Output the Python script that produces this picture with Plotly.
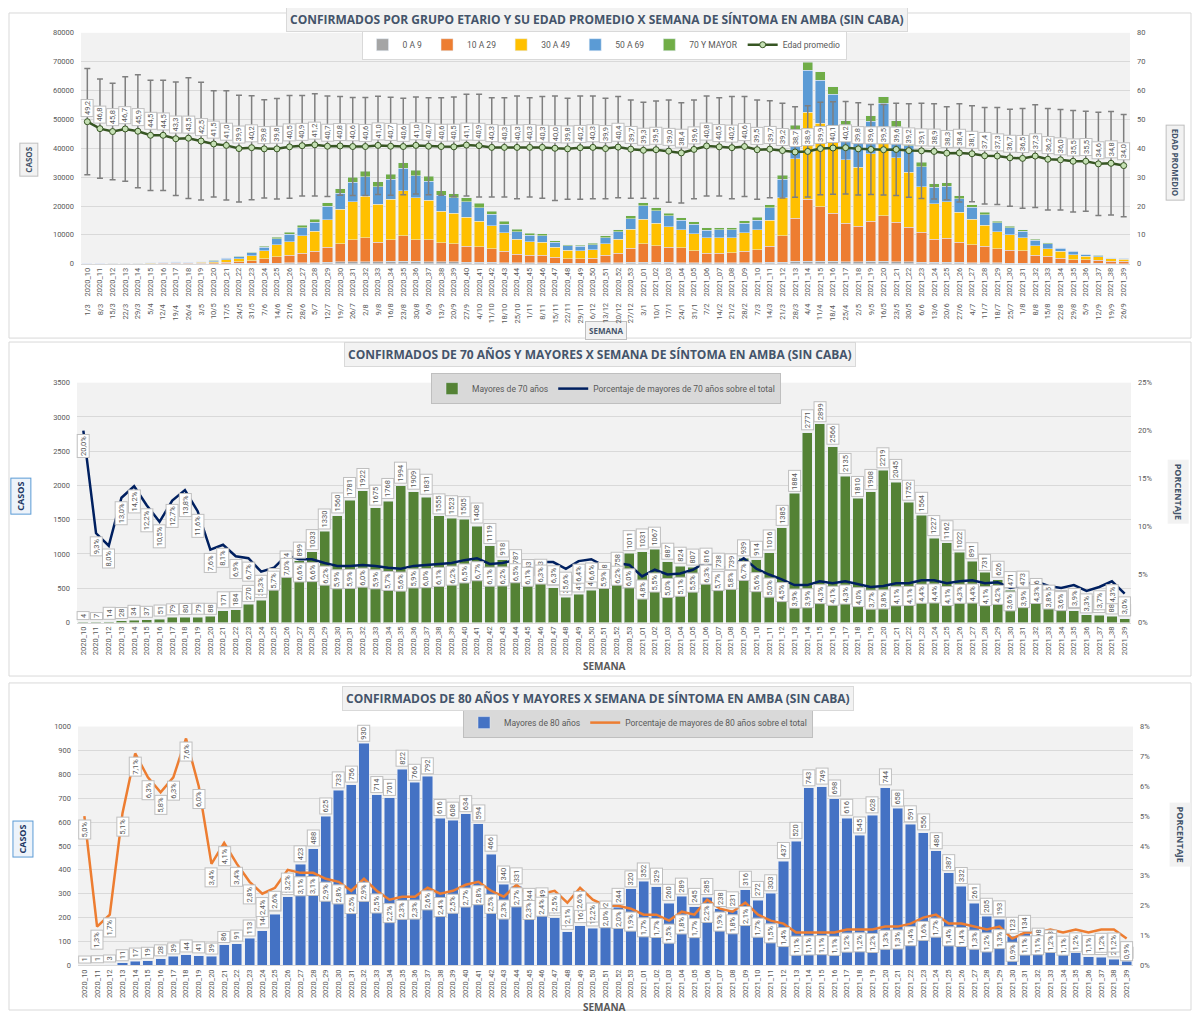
import plotly.graph_objects as go
import pandas as pd

# semanas epidemiologicas y fecha de inicio de cada una
semanas = [f"2020_{i:02d}" for i in range(10, 54)] + [f"2021_{i:02d}" for i in range(1, 40)]
fechas = [f"{d.day}/{d.month}" for d in pd.date_range("2020-03-01", periods=len(semanas), freq="7D")]

# --- grafico 1: casos por grupo etario ---
g_0_9 = [0, 2, 4, 5, 6, 8, 14, 18, 18, 22, 40, 70, 90, 130, 180, 250, 300, 350, 400, 570,
         700, 750, 750, 750, 800, 850, 800, 750, 650, 620, 600, 550, 500, 400, 350, 300, 300, 250,
         200, 200, 200, 300, 350, 450,
         500, 500, 450, 400, 400, 350, 350, 350, 400, 400, 500, 600, 900, 800, 800, 800, 700, 700,
         800, 800, 700, 700, 600, 500, 500, 450, 400, 350, 300, 250, 250, 200, 200, 150, 120, 100,
         100, 80, 80]
g_10_29 = [3, 12, 30, 35, 38, 55, 90, 115, 105, 130, 230, 420, 560, 880, 1580, 2160, 2570, 3200,
           4000, 5160, 6310, 7570, 8230, 6650, 7570, 8890, 7570, 7620, 6570, 6260, 5470, 5410, 4660,
           3840, 2970, 2570, 2570, 2040, 1600, 1500, 1750, 2570, 3320, 4940,
           6380, 5800, 5280, 5100, 4180, 3320, 3320, 3400, 3840, 4530, 5570, 9140, 14800, 21550,
           18910, 16740, 13280, 12250, 13870, 15820, 13630, 11910, 10290, 7980, 8330, 7000, 6250,
           5720, 4860, 4450, 4220, 2670, 2440, 1800, 1300, 1200, 1100, 800, 800]
g_30_49 = [7, 30, 72, 82, 92, 120, 200, 250, 230, 280, 500, 900, 1150, 1750, 2730, 4240, 4810,
           6100, 6800, 9510, 11800, 13180, 14320, 13180, 13980, 15470, 14550, 13640, 10890, 10660,
           9980, 8710, 8020, 6420, 5160, 4690, 4580, 3440, 2950, 2850, 2980, 4010, 4810, 6640,
           8590, 7800, 7110, 6190, 5740, 5270, 5270, 5300, 6420, 6760, 9060, 13180, 20630, 30140,
           29000, 26590, 22120, 20520, 23500, 25210, 22350, 19140, 15810, 12380, 12600, 10320,
           8710, 7340, 5960, 5390, 4580, 3430, 2520, 2290, 1700, 1350, 1150, 800, 750]
g_50_69 = [6, 24, 55, 65, 70, 83, 131, 160, 147, 170, 300, 550, 683, 1000, 1260, 2000, 2450,
           2850, 3200, 4590, 5650, 6750, 6850, 6100, 6880, 7800, 7600, 6500, 5550, 5250, 5380,
           4810, 3900, 3090, 2650, 2330, 2220, 1780, 1530, 1460, 1720, 2150, 2560, 3580,
           4590, 4200, 3810, 3420, 3430, 2730, 2810, 2700, 3300, 3440, 4250, 6420, 9800, 14560,
           14900, 14670, 11280, 9700, 11270, 13830, 10780, 9200, 6930, 5650, 5490, 4710, 4270,
           3630, 3040, 2390, 2280, 1800, 1790, 1060, 1180, 560, 420, 290, 260]
mayores_70 = [4, 7, 14, 28, 34, 37, 51, 79, 80, 79, 88, 171, 184, 270, 322, 522, 774, 899, 1033,
              1330, 1560, 1781, 1922, 1675, 1768, 1994, 1909, 1831, 1555, 1523, 1505, 1408, 1119,
              918, 787, 653, 653, 505, 372, 411, 469, 598, 758, 1011,
              1031, 1067, 887, 824, 807, 816, 738, 739, 939, 914, 1016, 1385, 1884, 2771, 2899,
              2566, 2135, 1810, 1908, 2219, 2045, 1752, 1564, 1227, 1162, 1022, 891, 731, 626, 471,
              473, 376, 275, 193, 174, 110, 106, 88, 58]
edad_promedio = [49.2, 46.8, 45.8, 46.7, 45.9, 44.5, 44.5, 43.3, 43.5, 42.5, 41.5, 41.0, 39.9,
                 40.2, 39.8, 39.8, 40.5, 40.9, 41.2, 40.7, 40.8, 40.6, 40.6, 41.0, 40.7, 40.6,
                 41.0, 40.7, 40.6, 40.5, 41.1, 40.9, 40.3, 40.3, 40.3, 40.3, 40.3, 40.0, 39.8,
                 40.2, 40.3, 39.9, 40.4, 39.7,
                 39.3, 39.5, 39.0, 38.4, 39.6, 40.8, 40.5, 40.2, 40.6, 39.5, 39.7, 39.2, 38.7,
                 38.9, 39.9, 40.1, 40.2, 39.8, 39.6, 39.5, 39.6, 39.2, 39.1, 38.9, 38.3, 38.4,
                 38.1, 37.4, 37.3, 36.7, 36.5, 37.3, 36.2, 36.0, 35.5, 35.5, 34.6, 34.8, 34.0]
desvio_edad = [18.4, 17.2, 16.7, 18.1, 19.6, 19.1, 19.1, 19.7, 20.9, 20.4, 18.4, 18.9, 18.5,
               18.0, 17.0, 17.4, 17.8, 17.4, 17.7, 17.4, 17.1, 17.0, 17.0, 17.0, 17.0, 16.7,
               16.8, 16.8, 16.9, 17.3, 17.6, 17.8, 17.2, 17.2, 17.8, 17.2, 17.6, 18.1, 17.5,
               17.9, 17.8, 17.4, 17.5, 17.0,
               16.6, 16.9, 17.7, 17.4, 17.1, 17.3, 17.0, 17.7, 17.3, 17.2, 16.8, 16.4, 15.7,
               15.8, 16.0, 16.0, 16.0, 16.0, 15.6, 15.7, 16.0, 16.2, 16.5, 16.5, 16.1, 17.0,
               16.6, 16.7, 16.8, 16.8, 17.3, 17.8, 17.6, 17.4, 17.6, 17.3, 17.9, 17.9, 17.7]

# --- grafico 2: 70 y mas ---
pct_70 = [20.0, 9.3, 8.0, 13.0, 14.2, 12.2, 10.5, 12.7, 13.8, 11.6, 7.6, 8.1, 6.9, 6.7, 5.3,
          5.7, 7.0, 6.6, 6.6, 6.2, 5.9, 5.9, 6.0, 5.9, 5.7, 5.6, 5.9, 6.0, 6.1, 6.2, 6.5, 6.7,
          6.1, 6.2, 6.5, 6.1, 6.3, 6.3, 5.6, 6.4, 6.6, 5.9, 6.2, 6.0,
          4.8, 5.5, 5.0, 5.1, 5.5, 6.3, 5.7, 5.8, 6.7, 5.6, 5.0, 4.5, 3.9, 3.9, 4.3, 4.1, 4.3,
          4.0, 3.7, 3.8, 4.1, 4.1, 4.4, 4.4, 4.1, 4.3, 4.4, 4.1, 4.2, 3.6, 3.9, 4.3, 3.8, 3.6,
          3.9, 3.3, 3.7, 4.3, 3.0]

# --- grafico 3: 80 y mas ---
mayores_80 = [1, 1, 3, 11, 17, 19, 28, 39, 44, 41, 39, 86, 91, 113, 146, 215, 287, 423, 488,
              625, 733, 756, 930, 714, 701, 822, 766, 792, 616, 608, 634, 594, 466, 340, 331,
              244, 249, 200, 140, 167, 156, 192, 244, 320,
              352, 329, 260, 289, 245, 285, 238, 231, 316, 272, 303, 437, 520, 743, 749, 698,
              616, 545, 628, 744, 658, 591, 556, 480, 387, 332, 261, 205, 193, 123, 134, 98, 93,
              60, 54, 37, 34, 25, 18]
pct_80 = [5.0, 1.3, 1.7, 5.1, 7.1, 6.3, 5.8, 6.3, 7.6, 6.0, 3.4, 4.1, 3.4, 2.8, 2.4, 2.6, 3.2,
          3.1, 3.1, 2.9, 2.8, 2.5, 2.9, 2.5, 2.2, 2.3, 2.3, 2.6, 2.4, 2.5, 2.7, 2.8, 2.5, 2.3,
          2.7, 2.3, 2.4, 2.5, 2.1, 2.6, 2.2, 2.0, 2.0, 1.9,
          1.7, 1.7, 1.5, 1.8, 1.7, 2.2, 1.9, 1.8, 2.1, 1.7, 1.5, 1.4, 1.1, 1.1, 1.1, 1.1, 1.2,
          1.2, 1.2, 1.3, 1.3, 1.4, 1.6, 1.7, 1.4, 1.4, 1.3, 1.2, 1.3, 0.9, 1.1, 1.1, 1.2, 1.1,
          1.2, 1.1, 1.2, 1.2, 0.9]

FONT = "Roboto"
GRIS = "#595959"
TITULO = "#44546A"
# la pagina deja 8px de margen alrededor del grafico
OFF = 8
W = 1184.0
H = 1008.0


def px_x(px):
    return (px - OFF) / W


def py(px):
    return 1 - (px - OFF) / H


def coma(v):
    return f"{v:.1f}".replace(".", ",")


fig = go.Figure()

grupos = [("0 A 9", g_0_9, "#A5A5A5"), ("10 A 29", g_10_29, "#ED7D31"),
          ("30 A 49", g_30_49, "#FFC000"), ("50 A 69", g_50_69, "#5B9BD5"),
          ("70 Y MAYOR", mayores_70, "#70AD47")]
for nombre, vals, color in grupos:
    fig.add_trace(go.Bar(x=semanas, y=vals, name=nombre, marker_color=color,
                         xaxis="x", yaxis="y", legend="legend"))

fig.add_trace(go.Scatter(x=semanas, y=edad_promedio, name="Edad promedio", mode="lines+markers",
                         line=dict(color="#375623", width=2.5),
                         marker=dict(size=6, color="#C5E0B4", line=dict(color="#375623", width=1)),
                         error_y=dict(type="data", array=desvio_edad, visible=True,
                                      color="#7F7F7F", thickness=1.5, width=3),
                         xaxis="x", yaxis="y2", legend="legend"))

fig.add_trace(go.Bar(x=semanas, y=mayores_70, name="Mayores de 70 años", marker_color="#548235",
                     xaxis="x2", yaxis="y3", legend="legend2"))
fig.add_trace(go.Scatter(x=semanas, y=[p / 100 for p in pct_70], mode="lines",
                         name="Porcentaje de mayores de 70 años sobre el total",
                         line=dict(color="#002060", width=2.5),
                         xaxis="x2", yaxis="y4", legend="legend2"))

fig.add_trace(go.Bar(x=semanas, y=mayores_80, name="Mayores de 80 años", marker_color="#4472C4",
                     xaxis="x3", yaxis="y5", legend="legend3"))
fig.add_trace(go.Scatter(x=semanas, y=[p / 100 for p in pct_80], mode="lines",
                         name="Porcentaje de mayores de 80 años sobre el total",
                         line=dict(color="#ED7D31", width=2.5),
                         xaxis="x3", yaxis="y6", legend="legend3"))

tick = dict(size=7.5, color=GRIS, family=FONT)
eje_x = dict(type="category", tickangle=-90, tickfont=tick, showgrid=False, ticks="",
             showline=True, linecolor="#D9D9D9", range=[-0.5, len(semanas) - 0.5])
eje_y = dict(tickfont=tick, gridcolor="#D9D9D9", zeroline=False, showline=False, ticks="",
             ticklabelstandoff=6)
eje_y2 = dict(tickfont=tick, showgrid=False, zeroline=False, showline=False, ticks="",
              side="right", ticklabelstandoff=6)

legend_base = dict(orientation="h", xanchor="center", yanchor="middle", borderwidth=1,
                   font=dict(size=8.5, color=GRIS, family=FONT), traceorder="normal")

fig.update_layout(
    width=W, height=H,
    margin=dict(l=0, r=0, t=0, b=0),
    paper_bgcolor="white", plot_bgcolor="#F2F2F2",
    barmode="stack", bargap=0.2,
    font=dict(family=FONT),
    xaxis=dict(eje_x, domain=[px_x(81), px_x(1130)], anchor="y"),
    yaxis=dict(eje_y, domain=[py(262), py(29)], range=[0, 80000], dtick=10000, tickformat="d"),
    yaxis2=dict(eje_y2, overlaying="y", anchor="x", range=[0, 80], dtick=10),
    xaxis2=dict(eje_x, domain=[px_x(77), px_x(1131)], anchor="y3"),
    yaxis3=dict(eje_y, domain=[py(624), py(382)], range=[0, 3500], dtick=500, anchor="x2"),
    yaxis4=dict(eje_y2, overlaying="y3", anchor="x2", range=[0, 0.25], dtick=0.05,
                tickformat=".0%"),
    xaxis3=dict(eje_x, domain=[px_x(78), px_x(1133)], anchor="y5"),
    yaxis5=dict(eje_y, domain=[py(970), py(729)], range=[0, 1000], dtick=100, anchor="x3"),
    yaxis6=dict(eje_y2, overlaying="y5", anchor="x3", range=[0, 0.08], dtick=0.01,
                tickformat=".0%"),
    legend=dict(legend_base, x=px_x(604), y=py(41), bgcolor="white", bordercolor="#D9D9D9"),
    legend2=dict(legend_base, x=px_x(606), y=py(388), bgcolor="#D9D9D9", bordercolor="#BFBFBF"),
    legend3=dict(legend_base, x=px_x(638), y=py(725), bgcolor="#D9D9D9", bordercolor="#BFBFBF"),
    showlegend=True,
)

# marcos de cada grafico
for y0, y1 in [(9, 337), (341, 678), (685, 1015)]:
    fig.add_shape(type="rect", xref="paper", yref="paper", x0=px_x(9), x1=px_x(1191),
                  y0=py(y1), y1=py(y0), line=dict(color="#D9D9D9", width=1), layer="below")

anots = []


def caja(texto, x, y, size=12, angle=0, bg="#F2F2F2", borde="#D9D9D9", color=TITULO):
    anots.append(dict(text=f"<b>{texto}</b>", x=px_x(x), y=py(y), xref="paper", yref="paper",
                      xanchor="center", yanchor="middle",
                      showarrow=False, textangle=angle, bgcolor=bg, bordercolor=borde,
                      borderwidth=1, borderpad=3,
                      font=dict(size=size, color=color, family="Open Sans")))


caja("CONFIRMADOS POR GRUPO ETARIO Y SU EDAD PROMEDIO X SEMANA DE SÍNTOMA EN AMBA (SIN CABA)",
     597, 16, size=12)
caja("CONFIRMADOS DE 70 AÑOS Y MAYORES X SEMANA DE SÍNTOMA EN AMBA (SIN CABA)", 600, 354, size=12)
caja("CONFIRMADOS DE 80 AÑOS Y MAYORES X SEMANA DE SÍNTOMA EN AMBA (SIN CABA)", 598, 701, size=12)

caja("CASOS", 29, 157, size=8, angle=-90, borde="#BFBFBF")
caja("EDAD PROMEDIO", 1175, 160, size=8, angle=90, borde="#BFBFBF")
caja("SEMANA", 606, 329, size=8, borde="#BFBFBF")
caja("CASOS", 21, 497, size=9, angle=-90, bg="#EDF3FA", borde="#5B9BD5", color="#1F3864")
caja("PORCENTAJE", 1178, 492, size=9, angle=90, borde="#F2F2F2")
caja("CASOS", 23, 843, size=9, angle=-90, bg="#EDF3FA", borde="#5B9BD5", color="#1F3864")
caja("PORCENTAJE", 1180, 838, size=9, angle=90, borde="#F2F2F2")
for yy in (668, 1012):
    anots.append(dict(text="<b>SEMANA</b>", x=px_x(604), y=py(yy), xref="paper", yref="paper",
                      xanchor="center", yanchor="middle", showarrow=False,
                      font=dict(size=10, color=GRIS, family="Open Sans")))

etiqueta = dict(showarrow=False, textangle=-90, bgcolor="white", bordercolor="#BFBFBF",
                borderwidth=1, borderpad=1, xanchor="center",
                font=dict(size=7.5, color=GRIS, family=FONT))

for i, s in enumerate(semanas):
    # fechas debajo de las semanas (grafico 1)
    anots.append(dict(text=fechas[i], x=s, y=py(300), xref="x", yref="paper", showarrow=False,
                      textangle=-90, xanchor="center", yanchor="top",
                      font=dict(size=7.5, color=GRIS, family=FONT)))
    anots.append(dict(etiqueta, text=coma(edad_promedio[i]), x=s, y=edad_promedio[i],
                      xref="x", yref="y2", yanchor="bottom", yshift=5))
    anots.append(dict(etiqueta, text=str(mayores_70[i]), x=s, y=mayores_70[i],
                      xref="x2", yref="y3", yanchor="bottom", yshift=2))
    anots.append(dict(etiqueta, text=coma(pct_70[i]) + "%", x=s, y=pct_70[i] / 100,
                      xref="x2", yref="y4", yanchor="top", yshift=-3))
    anots.append(dict(etiqueta, text=str(mayores_80[i]), x=s, y=mayores_80[i],
                      xref="x3", yref="y5", yanchor="bottom", yshift=2))
    anots.append(dict(etiqueta, text=coma(pct_80[i]) + "%", x=s, y=pct_80[i] / 100,
                      xref="x3", yref="y6", yanchor="top", yshift=-3))

fig.update_layout(annotations=anots)
fig.write_html("out.html")
